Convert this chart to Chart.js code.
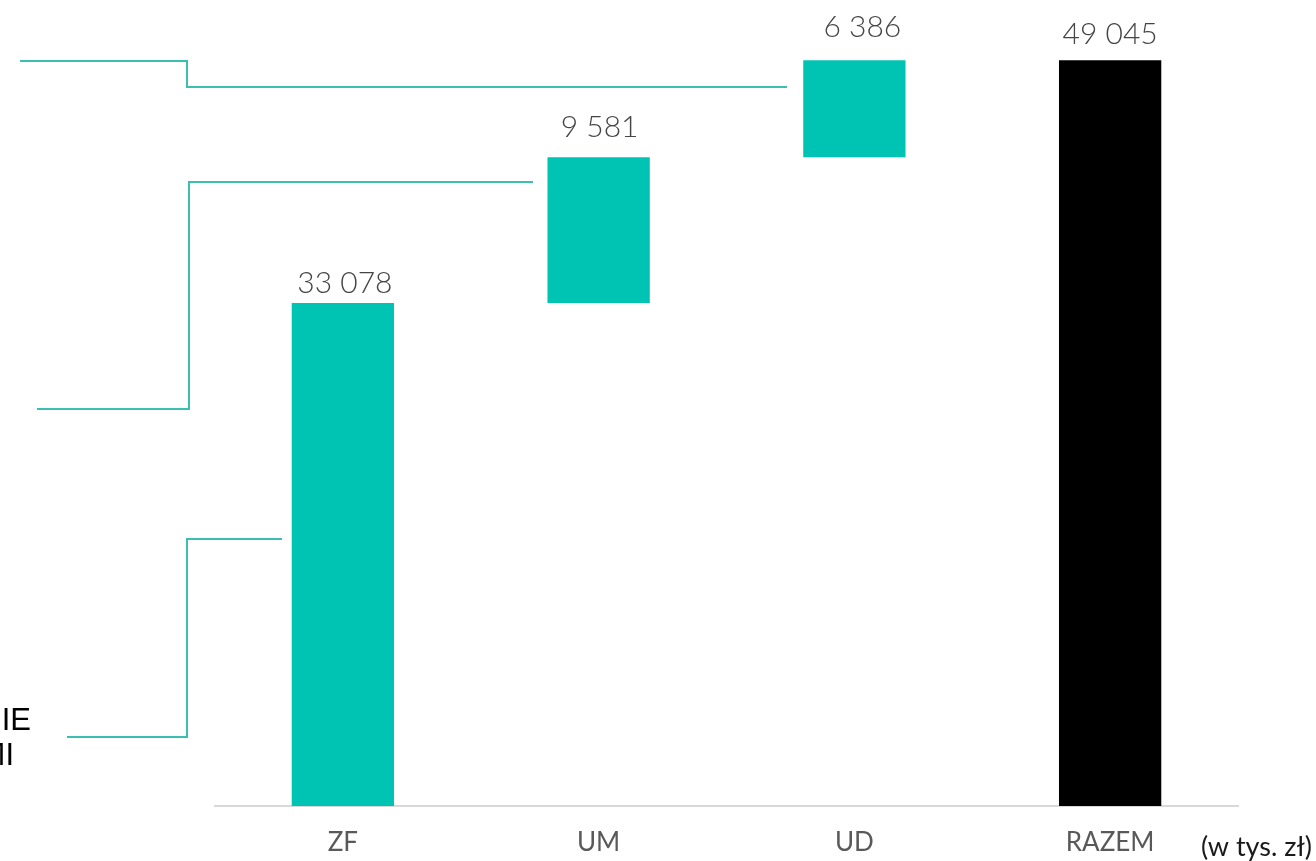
<!DOCTYPE html>
<html>
<head>
<meta charset="utf-8">
<script src="https://cdn.jsdelivr.net/npm/chart.js@4"></script>
<style>
  html, body { margin: 0; padding: 0; background: #ffffff; }
  #wrap { position: absolute; left: 0; top: 0; width: 1316px; height: 861px; }
</style>
</head>
<body>
<div id="wrap"><canvas id="c" width="1316" height="861"></canvas></div>
<script>
// ---- data ----
const categories = ['ZF', 'UM', 'UD', 'RAZEM'];
const increments = [33078, 9581, 6386];
const totalValue = 49045;
const unitLabel = '(w tys. zł)';
const sideLabelLines = ['ZARZĄDZANIE', 'FUNDUSZAMI'];

// floating ranges for the waterfall, built from the data above
const ranges = [];
let running = 0;
increments.forEach(v => { ranges.push([running, running + v]); running += v; });
ranges.push([0, totalValue]);
const labelValues = increments.concat([totalValue]);

const TEAL = '#00C4B3';
const LINE_TEAL = '#3CBFB1';

function fmt(n) {
  return String(n).replace(/\B(?=(\d{3})+(?!\d))/g, ' ');
}

const decorPlugin = {
  id: 'decor',
  afterDatasetsDraw(chart) {
    const ctx = chart.ctx;
    const meta = chart.getDatasetMeta(0);
    // value labels
    const lift = [20, 30, 33, 26];
    const shiftX = [2, 1, 8, 0];
    ctx.save();
    ctx.fillStyle = '#454545';
    ctx.font = '300 30px Lato, "Open Sans", sans-serif';
    ctx.textAlign = 'center';
    ctx.textBaseline = 'middle';
    meta.data.forEach((bar, i) => {
      const top = Math.min(bar.y, bar.base);
      ctx.fillText(fmt(labelValues[i]), bar.x + shiftX[i], top - lift[i]);
    });
    ctx.restore();

    // connector lines (annotations on the left)
    ctx.save();
    ctx.strokeStyle = LINE_TEAL;
    ctx.lineWidth = 2;
    ctx.lineJoin = 'miter';
    const paths = [
      [[20, 61], [187, 61], [187, 87], [787, 87]],
      [[37, 409], [189, 409], [189, 182], [533, 182]],
      [[67, 737], [187, 737], [187, 539], [282, 539]]
    ];
    paths.forEach(p => {
      ctx.beginPath();
      ctx.moveTo(p[0][0], p[0][1]);
      for (let k = 1; k < p.length; k++) ctx.lineTo(p[k][0], p[k][1]);
      ctx.stroke();
    });
    ctx.restore();

    // side label (cut at the left edge)
    ctx.save();
    ctx.fillStyle = '#000000';
    ctx.font = '31px "Liberation Sans", Arial, sans-serif';
    ctx.textAlign = 'right';
    ctx.textBaseline = 'middle';
    ctx.fillText(sideLabelLines[0], 31, 721);
    ctx.fillText(sideLabelLines[1], 14, 756);
    ctx.restore();

    // unit label
    ctx.save();
    ctx.fillStyle = '#1a1a1a';
    ctx.font = '27px Lato, "Open Sans", sans-serif';
    ctx.textAlign = 'right';
    ctx.textBaseline = 'middle';
    ctx.fillText(unitLabel, 1312, 847);
    ctx.restore();
  }
};

new Chart(document.getElementById('c'), {
  type: 'bar',
  data: {
    labels: categories,
    datasets: [{
      data: ranges,
      backgroundColor: categories.map((c, i) => i === categories.length - 1 ? '#000000' : TEAL),
      borderWidth: 0,
      borderSkipped: false,
      barPercentage: 0.8,
      categoryPercentage: 0.5
    }]
  },
  options: {
    responsive: false,
    animation: false,
    devicePixelRatio: 1,
    layout: { padding: { left: 215, right: 78, top: 0, bottom: 0 } },
    plugins: { legend: { display: false }, tooltip: { enabled: false } },
    scales: {
      x: {
        grid: { display: false, drawTicks: false },
        border: { display: true, color: '#D9D9D9', width: 2 },
        ticks: {
          color: '#595959',
          font: { family: 'Lato, "Open Sans", sans-serif', size: 26 },
          padding: 21
        },
        afterFit(scale) { scale.height = 55; }
      },
      y: {
        display: false,
        min: 0,
        max: 53000
      }
    }
  },
  plugins: [decorPlugin]
});
</script>
</body>
</html>
